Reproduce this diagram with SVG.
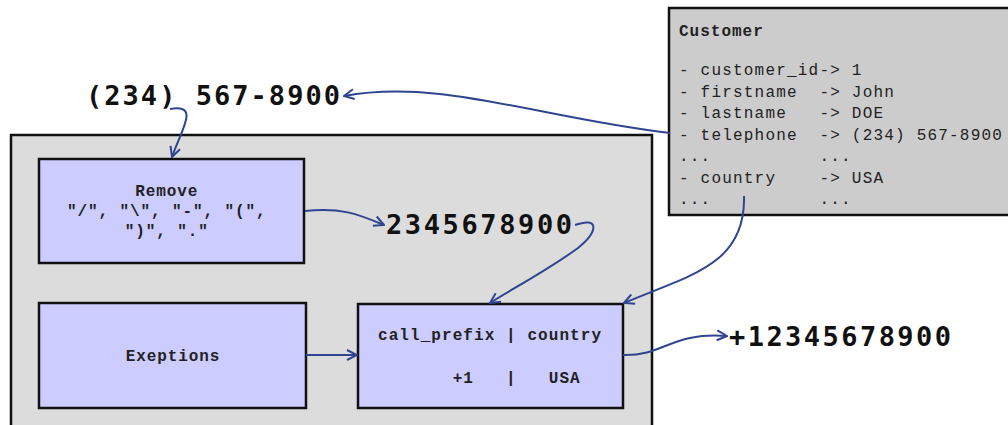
<svg xmlns="http://www.w3.org/2000/svg" width="1008" height="425" viewBox="0 0 1008 425">
<style>
.box{fill:#ccccff;stroke:#111;stroke-width:2.5}
.mono{font-family:"Liberation Mono","Courier New",monospace;font-size:16px;white-space:pre;fill:#222}
.b{font-weight:bold}
.big{font-family:"DejaVu Sans Mono","Liberation Mono",monospace;font-weight:bold;font-size:27px;fill:#111}
.conn{fill:none;stroke:#2f4590;stroke-width:2;marker-end:url(#arr)}
</style>
<defs>
<marker id="arr" viewBox="0 0 12 12" refX="11" refY="6" markerWidth="12" markerHeight="12" markerUnits="userSpaceOnUse" orient="auto">
<path d="M1,1 L11,6 L1,11" fill="none" stroke="#2f4590" stroke-width="2"/>
</marker>
</defs>
<rect width="1008" height="425" fill="#fff"/>
<g id="container"><rect x="11" y="135" width="641" height="300" fill="#dcdcdc" stroke="#111" stroke-width="2.5"/></g>
<g id="customer">
<rect x="669" y="8" width="350" height="207" fill="#cccccc" stroke="#111" stroke-width="2.5"/>
<text class="mono b" x="679" y="36" letter-spacing="1" font-size="15">Customer</text>
<text class="mono" letter-spacing="1.2" fill="#333">
<tspan x="679" y="75">- customer_id-&gt; 1</tspan>
<tspan x="679" y="97">- firstname  -&gt; John</tspan>
<tspan x="679" y="118">- lastname   -&gt; DOE</tspan>
<tspan x="679" y="140">- telephone  -&gt; (234) 567-8900</tspan>
<tspan x="679" y="161">...          ...</tspan>
<tspan x="679" y="183">- country    -&gt; USA</tspan>
<tspan x="679" y="204">...          ...</tspan>
</text>
</g>
<g id="phone"><text class="big" x="86" y="105" textLength="254" lengthAdjust="spacing">(234) 567-8900</text></g>
<g id="digits"><text class="big" x="386" y="234" textLength="186" lengthAdjust="spacing">2345678900</text></g>
<g id="result"><text class="big" x="729" y="346" textLength="222" lengthAdjust="spacing">+12345678900</text></g>
<g id="remove">
<rect class="box" x="39" y="159" width="265" height="104"/>
<text class="mono b" text-anchor="middle" letter-spacing="0.9">
<tspan x="172" y="196">Remove</tspan>
<tspan x="172" y="216">"/", "\", "-", "(",</tspan>
<tspan x="172" y="236">")", "."</tspan>
</text>
</g>
<g id="exceptions">
<rect class="box" x="39" y="303" width="267" height="105"/>
<text class="mono b" x="173" y="361" text-anchor="middle" letter-spacing="0.9">Exeptions</text>
</g>
<g id="lookup">
<rect class="box" x="358" y="304" width="265" height="104"/>
<text class="mono b" letter-spacing="1.07">
<tspan x="378" y="340">call_prefix | country</tspan>
<tspan x="378" y="383">       +1   |   USA</tspan>
</text>
</g>
<g id="connectors">
<path class="conn" d="M670,133 C540,118 440,78 344,96"/>
<path class="conn" d="M170,109 C200,104 182,128 172,157"/>
<path class="conn" d="M305,211 C340,207 358,214 384,225"/>
<path class="conn" d="M575,225 C600,216 598,232 578,248 C545,272 510,290 490,303"/>
<path class="conn" d="M744,196 C746,265 690,275 624,303"/>
<path class="conn" d="M306,355 L357,355"/>
<path class="conn" d="M623,355 C665,356 670,332 727,336"/>
</g>
</svg>
